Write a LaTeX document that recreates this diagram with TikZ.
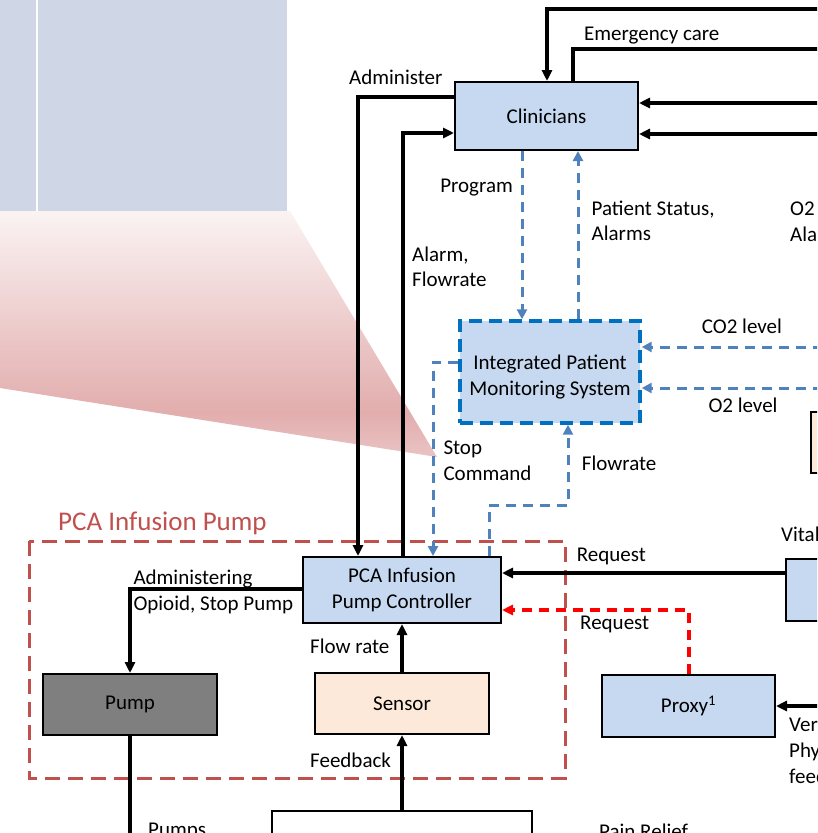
\documentclass[tikz,border=0pt]{standalone}
\usepackage{fontspec}
\setmainfont{Carlito}
\usetikzlibrary{arrows.meta}

\definecolor{panel}{HTML}{CFD7E7}
\definecolor{boxblue}{HTML}{C6D9F0}
\definecolor{flowblue}{HTML}{4F81BD}
\definecolor{ipmsedge}{HTML}{0070C0}
\definecolor{groupred}{HTML}{C0504D}
\definecolor{alertred}{HTML}{FF0000}
\definecolor{peach}{HTML}{FDE9D9}
\definecolor{pumpgray}{HTML}{7F7F7F}
\definecolor{pkT}{HTML}{FBF3F3}
\definecolor{pkD}{HTML}{E2ADAD}
\definecolor{pkB}{HTML}{EAC3C3}

% callout fade: 25bp = bottom of the shape, 75bp = top of the shape
\pgfdeclareverticalshading{calloutfade}{100bp}{color(0bp)=(pkB); color(25bp)=(pkB); color(34bp)=(pkD); color(75bp)=(pkT); color(100bp)=(pkT)}

\begin{document}
\begin{tikzpicture}[x=1pt,y=-1pt,
  font=\fontsize{21}{25.6}\selectfont,
  box/.style={draw=black, line width=2pt, fill=boxblue, inner sep=0pt, align=center},
  tip/.style={-{Triangle[length=11pt,width=10pt]}},
  conn/.style={line width=3.3pt, tip},
  plain/.style={line width=3.3pt},
  flow/.style={draw=flowblue, line width=3pt, dash pattern=on 10pt off 7pt, -{Triangle[length=10pt,width=10pt]}},
  alert/.style={draw=alertred, line width=3.2pt, dash pattern=on 10pt off 7pt, -{Triangle[length=11pt,width=10pt]}},
  lbl/.style={inner sep=0pt, anchor=base west, align=left},
]
\useasboundingbox (0,0) rectangle (817,833);
\clip (0,0) rectangle (817,833);

% enlarged view panel and its callout wedge
\fill[panel] (0,0) rectangle (35.5,211);
\fill[panel] (38.3,0) rectangle (287,211);
\shade[shading=calloutfade] (0,211) -- (290,211) -- (437,457) -- (0,388) -- cycle;

% pump subsystem frame
\draw[groupred, line width=3pt, dash pattern=on 15pt off 8pt] (29,541) rectangle (565,778);
\node[lbl, text=groupred, font=\fontsize{27}{32}\selectfont] (grouplbl) at (58,530) {PCA Infusion Pump};

% boxes
\node[box, minimum width=183pt, minimum height=68pt] (clin) at (546.5,116) {Clinicians};
\node[box, draw=ipmsedge, line width=3.4pt, dash pattern=on 13pt off 7pt, minimum width=180pt, minimum height=102pt] (ipms) at (550,372) {};
\node[inner sep=0pt, align=center] (ipmsText) at (550,377) {Integrated Patient\\Monitoring System};
\node[box, minimum width=198pt, minimum height=66pt] (pca) at (402,590) {PCA Infusion\\Pump Controller};
\node[box, fill=pumpgray, minimum width=174pt, minimum height=61pt] (pump) at (130,704.5) {\raisebox{-2pt}{Pump}};
\node[box, fill=peach, minimum width=174pt, minimum height=61pt] (sensor) at (402,703.5) {Sensor};
\node[box, minimum width=173pt, minimum height=62pt] (proxy) at (688.5,706) {Proxy\textsuperscript{1}};
\node[box, minimum width=174pt, minimum height=62pt] (vital) at (873,590) {};
\node[box, fill=peach, minimum width=174pt, minimum height=61pt] (oximeter) at (898,442.5) {};
\node[box, fill=white, minimum width=260pt, minimum height=100pt] (patient) at (402,861) {};

% free ends beyond the right and bottom edges
\coordinate (inTop) at (840,9);
\coordinate (outEmerg) at (840,49);
\coordinate (inA) at (840,103);
\coordinate (inB) at (840,134);
\coordinate (inCO2) at (840,347);
\coordinate (inO2) at (840,388);
\coordinate (inProxy) at (840,706);
\coordinate (pumpOut) at (130,860);

% clinician links
\draw[conn] (inTop) -| (clin.north -| 547,0);
\draw[plain] (clin.north -| 573,0) |- (outEmerg);
\draw[conn] (inA) -- (clin.east |- 0,103);
\draw[conn] (inB) -- (clin.east |- 0,134);
\draw[conn] (clin.west |- 0,97) -| (pca.north -| 358,0);
\draw[conn] (pca.north -| 403,0) |- (clin.west |- 0,133);

% monitoring links
\draw[flow] (clin.south -| 522,0) -- (ipms.north -| 522,0);
\draw[flow] (ipms.north -| 578,0) -- (clin.south -| 578,0);
\draw[flow] (inCO2) -- (ipms.east |- 0,347);
\draw[flow] (inO2) -- (ipms.east |- 0,388);
\draw[flow] (ipms.west |- 0,362) -| (pca.north -| 433,0);
\draw[flow] (pca.north -| 489,0) |- (568,505) -- (ipms.south -| 568,0);

% pump controller links
\draw[conn] (vital.west |- 0,573) -- (pca.east |- 0,573);
\draw[alert] (proxy.north -| 689,0) |- (pca.east |- 0,610);
\draw[conn] (inProxy) -- (proxy.east);
\draw[conn] (pca.west |- 0,589) -| (pump.north);
\draw[conn] (sensor.north) -- (pca.south);
\draw[conn] (patient.north) -- (sensor.south);
\draw[plain] (pump.south) -- (pumpOut);

% labels (multi-line labels are anchored on their last baseline)
\node[lbl] (lAdmin) at (349,84) {Administer};
\node[lbl] (lEmerg) at (584,40) {Emergency care};
\node[lbl, anchor=base east] (lProg) at (513,192) {Program};
\node[lbl] (lStatus) at (591.5,240.7) {Patient Status,\\Alarms};
\node[lbl] (lO2al) at (790,241) {O2 level,\\Alarms};
\node[lbl] (lAlarm) at (412,286.7) {Alarm,\\Flowrate};
\node[lbl] (lCO2) at (701.7,333.3) {CO2 level};
\node[lbl] (lO2) at (708.3,412.7) {O2 level};
\node[lbl] (lStop) at (443.3,480) {Stop\\Command};
\node[lbl] (lFlow) at (581.7,470.7) {Flowrate};
\node[lbl] (lOpioid) at (133.3,610) {Administering\\Opioid, Stop Pump};
\node[lbl] (lReq) at (576.7,561) {Request};
\node[lbl] (lReqP) at (580,629.3) {Request};
\node[lbl] (lVital) at (781,541.7) {Vital Signs};
\node[lbl] (lFlowR) at (310,653.3) {Flow rate};
\node[lbl] (lFeed) at (310,767.7) {Feedback};
\node[lbl] (lVerbal) at (789,783) {Verbal,\\Physical\\feedback};
\node[lbl] (lPumps) at (148,836) {Pumps};
\node[lbl] (lRelief) at (599,838) {Pain Relief};
\end{tikzpicture}
\end{document}
